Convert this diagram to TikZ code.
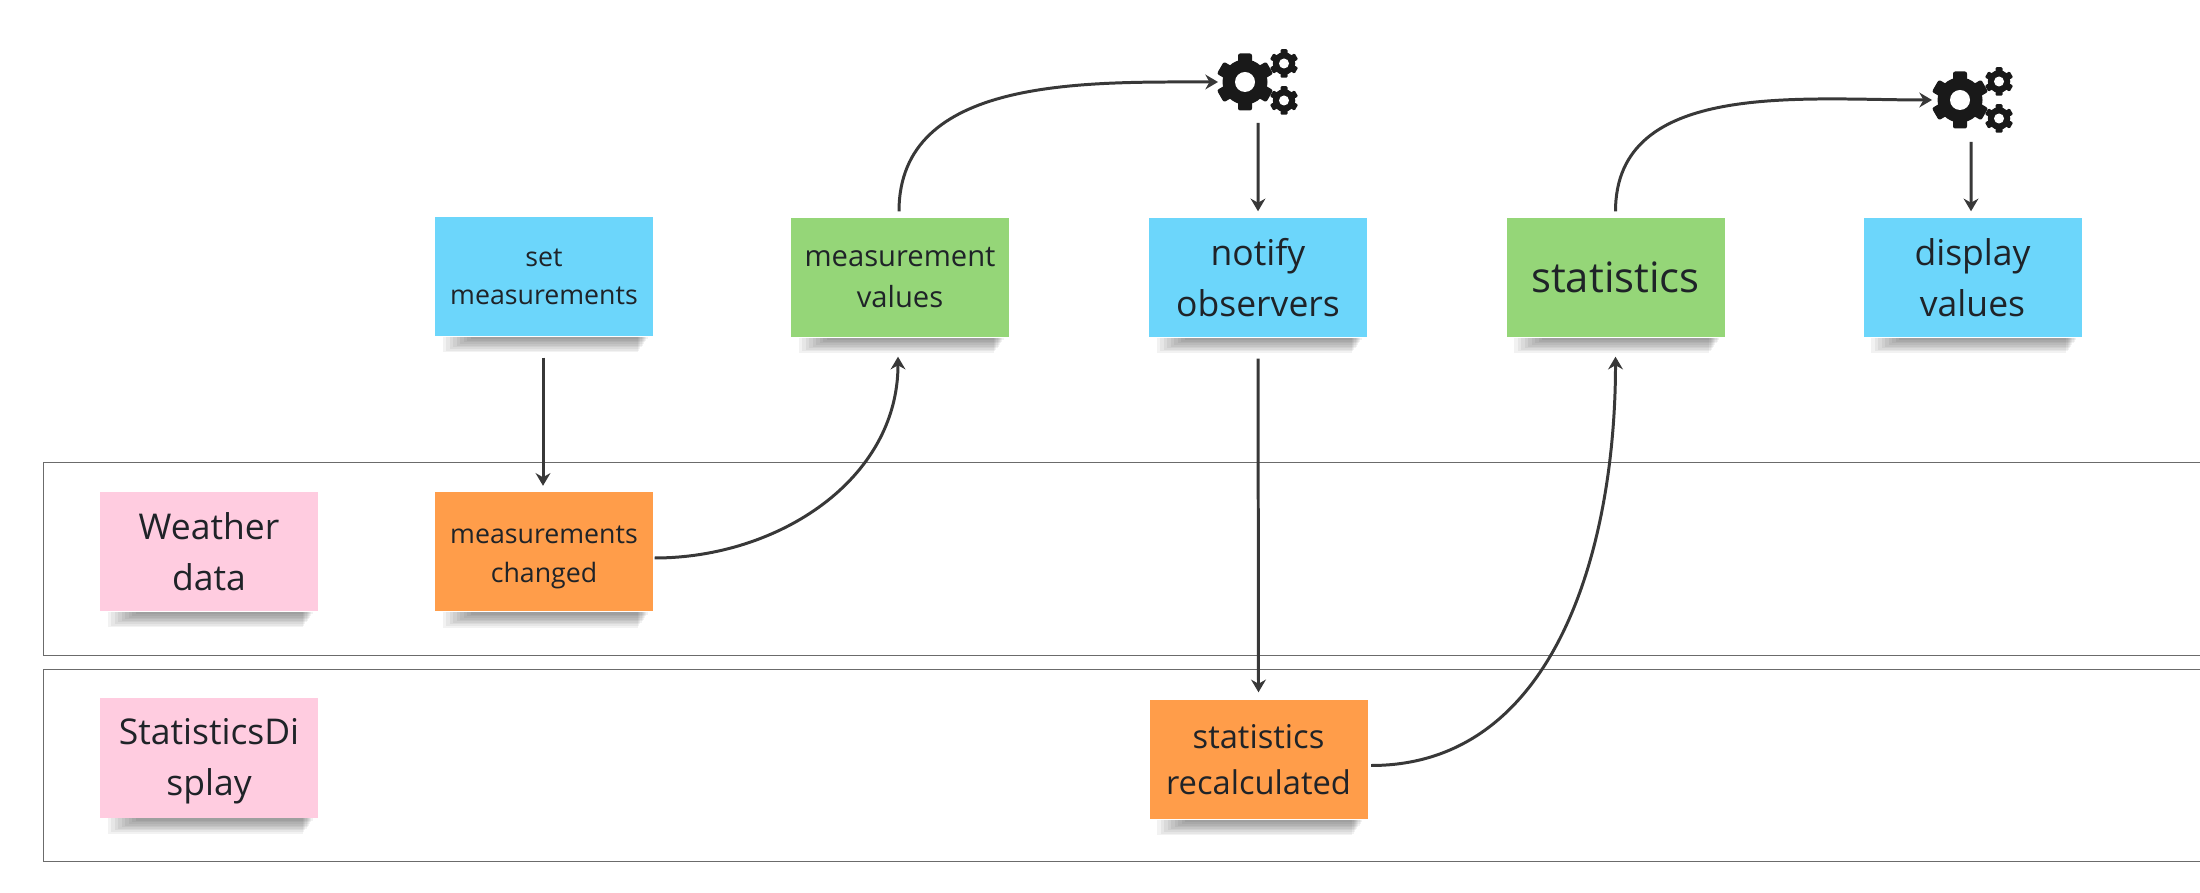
\documentclass[tikz,border=0pt]{standalone}
\usepackage{fontspec}
\setmainfont{Open Sans}
\usetikzlibrary{arrows.meta}

\definecolor{noteblue}{HTML}{6CD6FB}
\definecolor{notegreen}{HTML}{95D678}
\definecolor{noteorange}{HTML}{FF9D4A}
\definecolor{notepink}{HTML}{FFCCE0}
\definecolor{inkdark}{HTML}{1F2328}

\tikzset{
  note/.style={minimum width=2.18cm, minimum height=1.19cm, inner sep=0pt, align=center, text=inkdark},
  small/.style={font=\fontsize{7.6}{10.9}\selectfont},
  medium/.style={font=\fontsize{8.3}{11.8}\selectfont},
  large/.style={font=\fontsize{10.1}{14.5}\selectfont},
  flow/.style={draw=black!78, line width=0.85pt, -{Stealth[length=3.6pt,width=4.2pt]}},
  lane/.style={draw=black!58, line width=0.4pt},
  gears/.pic={
    \fill[black!90] (0,0) circle [radius=0.225];
    \foreach \a in {0,60,...,300} {
      \fill[black!90, rotate=\a, rounded corners=0.6pt] (-0.07,0.15) rectangle (0.07,0.285);
    }
    \fill[white] (0,0) circle [radius=0.1];
    \foreach \y in {0.185,-0.185} {
      \begin{scope}[shift={(0.39,\y)}, scale=0.5]
        \fill[black!90] (0,0) circle [radius=0.225];
        \foreach \a in {0,60,...,300} {
          \fill[black!90, rotate=\a, rounded corners=0.3pt] (-0.07,0.15) rectangle (0.07,0.285);
        }
        \fill[white] (0,0) circle [radius=0.1];
      \end{scope}
    }
  }
}

% soft shadow under a note
\newcommand{\noteshadow}[1]{
  \foreach \k in {1,...,9} {
    \fill[black, opacity=0.05] ([xshift={0.40cm-\k*0.035cm}]#1.south west) rectangle ([xshift={-0.05cm-\k*0.012cm}, yshift={-0.016cm*\k-0.01cm}]#1.south east);
  }
}

\begin{document}
\begin{tikzpicture}
\useasboundingbox (0,0) rectangle (22,8.92);

% lanes
\draw[lane] (22.2,4.295) -- (0.435,4.295) -- (0.435,2.365) -- (22.2,2.365);
\draw[lane] (22.2,2.225) -- (0.435,2.225) -- (0.435,0.305) -- (22.2,0.305);

% top row
\node[note, small, fill=noteblue] (setm) at (5.44,6.155) {set\\measurements};
\node[note, medium, fill=notegreen] (values) at (9.00,6.145) {measurement\\values};
\node[note, large, fill=noteblue] (notify) at (12.58,6.145) {notify\\observers};
\node[note, font=\fontsize{11.9}{16}\selectfont, fill=notegreen] (stats) at (16.155,6.145) {statistics};
\node[note, large, fill=noteblue] (display) at (19.725,6.145) {display\\values};

% lane rows
\node[note, large, fill=notepink] (weather) at (2.09,3.405) {Weather\\data};
\node[note, small, fill=noteorange] (changed) at (5.44,3.40) {\rule{0pt}{8pt}measurements\\changed};
\node[note, large, fill=notepink] (display2) at (2.09,1.34) {\rule{0pt}{9pt}StatisticsDi\\splay};
\node[note, font=\fontsize{9.3}{13.2}\selectfont, fill=noteorange] (recalc) at (12.585,1.325) {statistics\\recalculated};

\foreach \n in {setm,values,notify,stats,display,weather,changed,display2,recalc} {
  \noteshadow{\n}
}

% gears
\coordinate (gearA) at (12.45,8.10);
\coordinate (gearB) at (19.60,7.92);
\pic at (gearA) {gears};
\pic at (gearB) {gears};

% flows
\draw[flow, shorten <=0.21cm, shorten >=0.06cm] ([xshift=-0.01cm]setm.south) -- ([xshift=-0.01cm]changed.north);
\draw[flow] ([xshift=0.01cm,yshift=-0.06cm]changed.east) to[out=0, in=270] ([yshift=-0.19cm,xshift=-0.02cm]values.south);
\draw[flow] ([xshift=-0.01cm,yshift=0.06cm]values.north) to[out=90, in=180] ([xshift=-0.27cm]gearA);
\draw[flow] ([xshift=0.13cm,yshift=-0.41cm]gearA) -- ([yshift=0.06cm]notify.north);
\draw[flow, shorten <=0.21cm, shorten >=0.07cm] (notify.south) -- (recalc.north);
\draw[flow] ([xshift=0.03cm,yshift=-0.06cm]recalc.east) to[out=0, in=270] ([yshift=-0.19cm]stats.south);
\draw[flow] ([yshift=0.06cm]stats.north) to[out=90, in=180] ([xshift=-0.28cm]gearB);
\draw[flow] ([xshift=0.11cm,yshift=-0.42cm]gearB) -- ([xshift=-0.015cm,yshift=0.06cm]display.north);
\end{tikzpicture}
\end{document}
